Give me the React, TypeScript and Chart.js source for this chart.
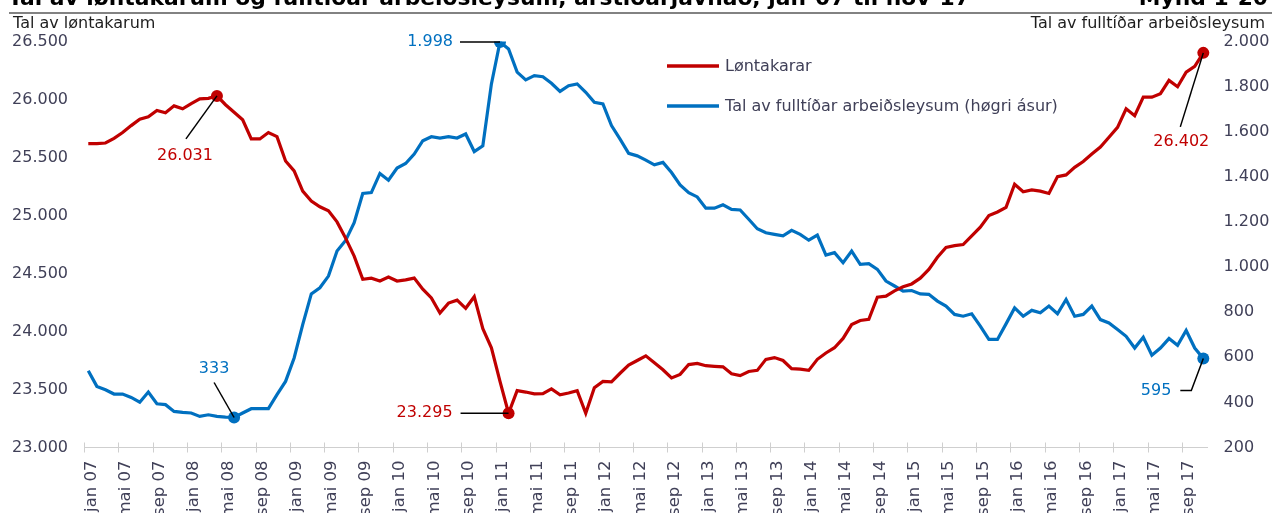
import React, { useEffect, useRef } from 'react';
import { Chart, registerables } from 'chart.js';

Chart.register(...registerables);

const FONT = "'DejaVu Sans', Verdana, sans-serif";

const titleText = 'Tal av løntakarum og fulltíðar arbeiðsleysum, árstíðarjavnað, jan-07 til nov-17';
const figureNo = 'Mynd 1-20';
const leftAxisTitle = 'Tal av løntakarum';
const rightAxisTitle = 'Tal av fulltíðar arbeiðsleysum';
const seriesNames = ['Løntakarar', 'Tal av fulltíðar arbeiðsleysum (høgri ásur)'];

const monthNames = ['jan', 'feb', 'mar', 'apr', 'mai', 'jun', 'jul', 'aug', 'sep', 'okt', 'nov', 'des'];
const yearLabels = ['07', '08', '09', '10', '11', '12', '13', '14', '15', '16', '17'];
const categories: string[] = [];
yearLabels.forEach((y) => monthNames.forEach((m) => categories.push(`${m} ${y}`)));
categories.splice(131); // jan 07 – nov 17

const loentakarar = [
  25620, 25620, 25625, 25665, 25715, 25775, 25830, 25850, 25905, 25885, 25945, 25920,
  25965, 26005, 26010, 26031, 25955, 25890, 25825, 25660, 25660, 25715, 25680, 25470,
  25385, 25210, 25125, 25075, 25040, 24945, 24805, 24650, 24450, 24460, 24435, 24470,
  24435, 24445, 24460, 24365, 24290, 24160, 24245, 24270, 24200, 24300, 24025, 23860,
  23570, 23295, 23490, 23478, 23462, 23465, 23505, 23455, 23470, 23490, 23295, 23515,
  23570, 23565, 23640, 23710, 23750, 23790, 23730, 23670, 23600, 23630, 23715, 23725,
  23705, 23700, 23695, 23635, 23620, 23655, 23665, 23760, 23775, 23750, 23680, 23675,
  23665, 23760, 23815, 23860, 23940, 24060, 24095, 24105, 24295, 24305, 24350, 24385,
  24410, 24460, 24535, 24640, 24725, 24740, 24750, 24825, 24900, 25000, 25030, 25070,
  25270, 25205, 25220, 25210, 25190, 25335, 25350, 25415, 25465, 25530, 25590, 25675,
  25760, 25920, 25860, 26020, 26020, 26050, 26165, 26110, 26235, 26285, 26402,
];

const arbeidsleysi = [
  540, 471, 456, 437, 437, 422, 401, 446, 394, 390, 360, 356,
  353, 338, 345, 338, 335, 333, 353, 372, 372, 372, 434, 493,
  597, 745, 881, 908, 960, 1071, 1118, 1197, 1326, 1330, 1415, 1385,
  1439, 1459, 1501, 1560, 1578, 1572, 1578, 1572, 1590, 1512, 1538, 1812,
  1998, 1967, 1864, 1830, 1849, 1844, 1815, 1779, 1804, 1812, 1775, 1730,
  1723, 1627, 1567, 1504, 1493, 1474, 1453, 1464, 1419, 1364, 1330, 1311,
  1261, 1261, 1276, 1256, 1253, 1212, 1170, 1152, 1145, 1138, 1163, 1145,
  1119, 1142, 1053, 1064, 1019, 1071, 1012, 1015, 990, 938, 916, 893,
  896, 881, 879, 849, 827, 790, 782, 793, 738, 679, 679, 748,
  819, 782, 808, 797, 827, 793, 856, 782, 790, 827, 767, 752,
  723, 693, 641, 689, 609, 641, 683, 653, 719, 641, 595,
];

const leftMin = 23000, leftMax = 26500, leftStep = 500;
const rightMin = 200, rightMax = 2000, rightStep = 200;

const redMarks = [15, 49, 130];
const blueMarks = [17, 48, 130];

const RED = '#C00000';
const BLUE = '#0070C0';
const TICK_COLOR = '#404058';

const fmt = (v: number) => String(Math.round(v)).replace(/\B(?=(\d{3})+(?!\d))/g, '.');

// leader line / label layout relative to the marked point
type Ann = { ds: 0 | 1; i: number; path: [number, number][]; label: [number, number]; align: CanvasTextAlign };
const annotations: Ann[] = [
  { ds: 0, i: 15, path: [[0, 0], [-31, 43]], label: [-32, 60], align: 'center' },
  { ds: 0, i: 49, path: [[0, 0], [-48, 0]], label: [-56, 0], align: 'right' },
  { ds: 0, i: 130, path: [[0, 0], [-23, 74]], label: [-22, 89], align: 'center' },
  { ds: 1, i: 48, path: [[0, 0], [-40, 0]], label: [-47, 0], align: 'right' },
  { ds: 1, i: 17, path: [[0, 0], [-20, -35]], label: [-20, -49], align: 'center' },
  { ds: 1, i: 130, path: [[0, 0], [-12, 32], [-23, 32]], label: [-32, 32], align: 'right' },
];

const overlay = {
  id: 'overlay',
  afterDraw(chart: any) {
    const { ctx, chartArea, scales } = chart;
    const xs = scales.x, yl = scales.y, yr = scales.y1;
    ctx.save();

    // title (partly above the page top)
    ctx.fillStyle = '#000';
    ctx.font = `bold 21.8px ${FONT}`;
    ctx.textBaseline = 'alphabetic';
    ctx.textAlign = 'left';
    ctx.fillText(titleText, 8, 4.5);
    ctx.textAlign = 'right';
    ctx.fillText(figureNo, 1268, 4.5);
    ctx.strokeStyle = '#595959';
    ctx.lineWidth = 1.5;
    ctx.beginPath();
    ctx.moveTo(9, 13);
    ctx.lineTo(1272, 13);
    ctx.stroke();

    // axis titles
    ctx.font = `16px ${FONT}`;
    ctx.fillStyle = '#1e1e1e';
    ctx.textAlign = 'left';
    ctx.fillText(leftAxisTitle, 13, 28);
    ctx.textAlign = 'right';
    ctx.fillText(rightAxisTitle, 1265, 28);

    // x tick marks
    const half = (xs.getPixelForValue(1) - xs.getPixelForValue(0)) / 2;
    ctx.strokeStyle = '#cfcfcf';
    ctx.lineWidth = 1;
    for (let i = 0; i < categories.length; i += 4) {
      const px = Math.round(xs.getPixelForValue(i) - half) + 0.5;
      ctx.beginPath();
      ctx.moveTo(px, chartArea.bottom - 5);
      ctx.lineTo(px, chartArea.bottom + 5);
      ctx.stroke();
    }

    // legend
    ctx.lineWidth = 3.5;
    ctx.font = `16px ${FONT}`;
    ctx.textAlign = 'left';
    ctx.textBaseline = 'middle';
    [RED, BLUE].forEach((c, k) => {
      const ly = k === 0 ? 66 : 106;
      ctx.strokeStyle = c;
      ctx.beginPath();
      ctx.moveTo(667, ly);
      ctx.lineTo(719, ly);
      ctx.stroke();
      ctx.fillStyle = TICK_COLOR;
      ctx.fillText(seriesNames[k], 725, ly + 1);
    });

    // annotations
    annotations.forEach((a) => {
      const data = a.ds === 0 ? loentakarar : arbeidsleysi;
      const ys = a.ds === 0 ? yl : yr;
      const px = xs.getPixelForValue(a.i);
      const py = ys.getPixelForValue(data[a.i]);
      ctx.strokeStyle = '#000';
      ctx.lineWidth = 1.5;
      ctx.beginPath();
      a.path.forEach(([dx, dy], k) => {
        if (k === 0) ctx.moveTo(px + dx, py + dy);
        else ctx.lineTo(px + dx, py + dy);
      });
      ctx.stroke();
      ctx.fillStyle = a.ds === 0 ? RED : BLUE;
      ctx.font = `16px ${FONT}`;
      ctx.textAlign = a.align;
      ctx.textBaseline = 'middle';
      ctx.fillText(fmt(data[a.i]), px + a.label[0], py + a.label[1]);
    });

    ctx.restore();
  },
};

export default function App() {
  const ref = useRef<HTMLCanvasElement | null>(null);

  useEffect(() => {
    document.body.style.margin = '0';
    document.documentElement.style.overflow = 'hidden';
    const canvas = ref.current;
    if (!canvas) return;
    const chart = new Chart(canvas, {
      type: 'line',
      data: {
        labels: categories,
        datasets: [
          {
            label: seriesNames[0],
            data: loentakarar,
            yAxisID: 'y',
            borderColor: RED,
            backgroundColor: RED,
            borderWidth: 3.2,
            tension: 0,
            pointRadius: (c: any) => (redMarks.includes(c.dataIndex) ? 6 : 0),
            pointBorderWidth: 0,
            pointBackgroundColor: RED,
          },
          {
            label: seriesNames[1],
            data: arbeidsleysi,
            yAxisID: 'y1',
            borderColor: BLUE,
            backgroundColor: BLUE,
            borderWidth: 3.2,
            tension: 0,
            pointRadius: (c: any) => (blueMarks.includes(c.dataIndex) ? 6 : 0),
            pointBorderWidth: 0,
            pointBackgroundColor: BLUE,
          },
        ],
      },
      options: {
        responsive: false,
        animation: false,
        events: [],
        layout: { padding: { top: 41.5, left: 0, right: 0, bottom: 0 } },
        plugins: { legend: { display: false }, tooltip: { enabled: false }, title: { display: false } },
        scales: {
          x: {
            type: 'category',
            offset: true,
            grid: { display: false, drawTicks: false, offset: true },
            border: { display: true, color: '#cfcfcf', width: 1 },
            ticks: {
              autoSkip: false,
              minRotation: 90,
              maxRotation: 90,
              padding: 13,
              labelOffset: 3,
              color: TICK_COLOR,
              font: { family: FONT, size: 16.5 },
              callback: (_v: any, i: number) => (i % 4 === 0 ? categories[i] : ''),
            },
            afterFit: (s: any) => {
              s.height = 65.5;
            },
          },
          y: {
            position: 'left',
            min: leftMin,
            max: leftMax,
            grid: { display: false, drawTicks: false },
            border: { display: false },
            ticks: {
              stepSize: leftStep,
              padding: 16,
              color: TICK_COLOR,
              font: { family: FONT, size: 16 },
              callback: (v: any) => fmt(Number(v)),
            },
            afterFit: (s: any) => {
              s.width = 84;
            },
          },
          y1: {
            position: 'right',
            min: rightMin,
            max: rightMax,
            grid: { display: false, drawTicks: false },
            border: { display: false },
            ticks: {
              stepSize: rightStep,
              padding: 16,
              color: TICK_COLOR,
              font: { family: FONT, size: 16 },
              callback: (v: any) => fmt(Number(v)),
            },
            afterFit: (s: any) => {
              s.width = 64.4;
            },
          },
        },
      },
      plugins: [overlay],
    } as any);
    return () => chart.destroy();
  }, []);

  return (
    <div style={{ width: 1272, height: 513, overflow: 'hidden', position: 'relative' }}>
      <canvas ref={ref} width={1272} height={513} style={{ display: 'block' }} />
    </div>
  );
}
